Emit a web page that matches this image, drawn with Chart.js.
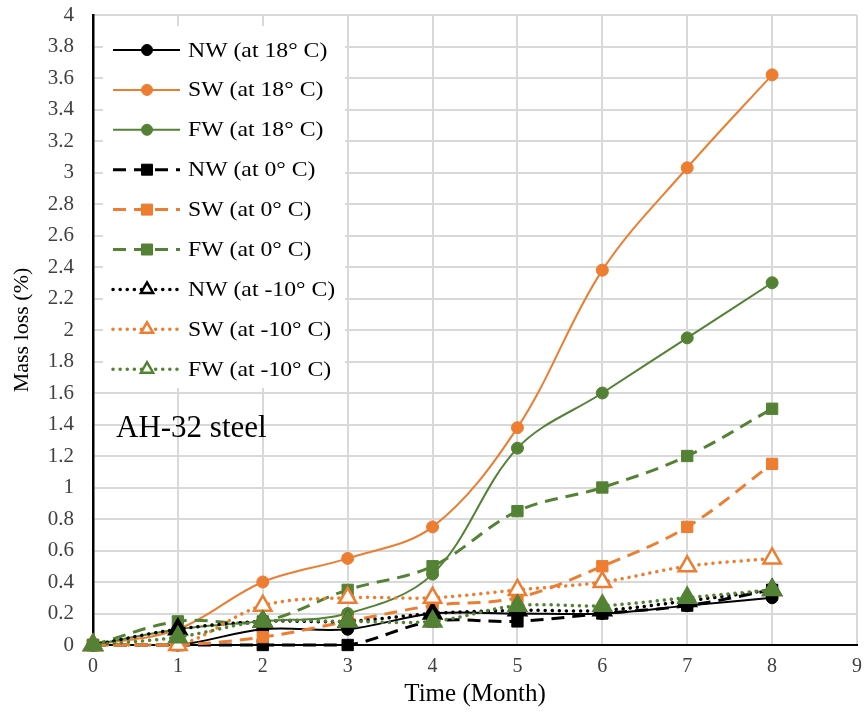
<!DOCTYPE html>
<html>
<head>
<meta charset="utf-8">
<script src="https://cdn.jsdelivr.net/npm/chart.js@4.4.1/dist/chart.umd.min.js"></script>
<style>
  html, body { margin: 0; padding: 0; background: #fff; }
  #wrap { width: 864px; height: 712px; }
</style>
</head>
<body>
<div id="wrap"><canvas id="massChart" width="864" height="712"></canvas></div>
<script>
// Months on the x axis
const months = [0, 1, 2, 3, 4, 5, 6, 7, 8];

// Mass loss (%)
const nw18 = [0, 0, 0.1, 0.1, 0.2, 0.2, 0.2, 0.25, 0.3];
const sw18 = [0, 0.1, 0.4, 0.55, 0.75, 1.38, 2.38, 3.03, 3.62];
const fw18 = [0, 0.1, 0.15, 0.2, 0.45, 1.25, 1.6, 1.95, 2.3];
const nw0 = [0, 0, 0, 0, 0.15, 0.15, 0.2, 0.25, 0.35];
const sw0 = [0, 0, 0.05, 0.15, 0.25, 0.3, 0.5, 0.75, 1.15];
const fw0 = [0, 0.15, 0.15, 0.35, 0.5, 0.85, 1.0, 1.2, 1.5];
const nw10 = [0, 0.1, 0.15, 0.15, 0.2, 0.22, 0.22, 0.28, 0.35];
const sw10 = [0, 0, 0.25, 0.3, 0.3, 0.35, 0.4, 0.5, 0.55];
const fw10 = [0, 0.05, 0.15, 0.15, 0.15, 0.25, 0.25, 0.3, 0.35];

const seriesLabels = [
    'NW (at 18° C)', 'SW (at 18° C)', 'FW (at 18° C)',
    'NW (at 0° C)', 'SW (at 0° C)', 'FW (at 0° C)',
    'NW (at -10° C)', 'SW (at -10° C)', 'FW (at -10° C)'
];
const seriesValues = [nw18, sw18, fw18, nw0, sw0, fw0, nw10, sw10, fw10];

const BLACK = '#000000';
const ORANGE = '#ED7D31';
const GREEN = '#548235';
const colors = [BLACK, ORANGE, GREEN];
const SERIF = "'Liberation Serif', 'Times New Roman', serif";

function makeDataset(i) {
    const group = Math.floor(i / 3); // 0 = 18°, 1 = 0°, 2 = -10°
    const color = colors[i % 3];
    const ds = {
        label: seriesLabels[i],
        data: months.map((m, k) => ({ x: m, y: seriesValues[i][k] })),
        borderColor: color,
        backgroundColor: color,
        pointBackgroundColor: color,
        pointBorderColor: color,
        tension: 0.35,
        order: 9 - i,
        clip: false
    };
    if (group === 0) {
        ds.borderWidth = 2;
        ds.pointStyle = 'circle';
        ds.pointRadius = 6;
        ds.pointBorderWidth = 1;
    } else if (group === 1) {
        ds.borderWidth = 3;
        ds.borderDash = [13, 8];
        ds.pointStyle = 'rect';
        ds.pointRadius = 8;
        ds.pointBorderWidth = 1;
    } else {
        ds.borderWidth = 3.5;
        ds.borderDash = [0.1, 7];
        ds.borderCapStyle = 'round';
        ds.pointStyle = 'triangle';
        ds.pointRadius = 10;
        ds.pointBorderWidth = 2.5;
        if (color === ORANGE) ds.pointBackgroundColor = '#ffffff';
    }
    return ds;
}

// Legend box + "AH-32 steel" drawn inside the plot like the original
const insideLegend = {
    id: 'insideLegend',
    afterDraw(chart) {
        const ctx = chart.ctx;
        ctx.save();
        ctx.fillStyle = '#ffffff';
        ctx.fillRect(103, 26, 242, 362);

        chart.data.datasets.forEach((ds, i) => {
            const y = 50 + i * 39.9;
            ctx.save();
            ctx.strokeStyle = ds.borderColor;
            ctx.lineWidth = ds.borderWidth;
            ctx.lineCap = ds.borderCapStyle || 'butt';
            ctx.setLineDash(ds.borderDash || []);
            ctx.beginPath();
            ctx.moveTo(113, y);
            ctx.lineTo(180, y);
            ctx.stroke();
            ctx.setLineDash([]);
            const r = ds.pointStyle === 'triangle' ? 7 : 5.5;
            ctx.fillStyle = ds.pointStyle === 'triangle' ? '#ffffff' : ds.borderColor;
            ctx.strokeStyle = ds.borderColor;
            ctx.lineWidth = ds.pointStyle === 'triangle' ? 2.5 : 1;
            ctx.beginPath();
            if (ds.pointStyle === 'circle') {
                ctx.arc(147, y, r, 0, Math.PI * 2);
            } else if (ds.pointStyle === 'rect') {
                ctx.rect(147 - 5.5, y - 5.5, 11, 11);
            } else {
                ctx.moveTo(147, y - r);
                ctx.lineTo(147 + r * 0.87, y + r * 0.5);
                ctx.lineTo(147 - r * 0.87, y + r * 0.5);
                ctx.closePath();
            }
            ctx.fill();
            ctx.stroke();
            ctx.restore();

            // the original text is a little stretched sideways
            ctx.save();
            ctx.translate(188, y + 1);
            ctx.scale(1.13, 1);
            ctx.fillStyle = '#000000';
            ctx.font = '21px ' + SERIF;
            ctx.textBaseline = 'middle';
            ctx.textAlign = 'left';
            ctx.fillText(ds.label, 0, 0);
            ctx.restore();
        });

        ctx.fillStyle = '#000000';
        ctx.font = '31px ' + SERIF;
        ctx.textBaseline = 'alphabetic';
        ctx.fillText('AH-32 steel', 116, 437);
        ctx.restore();
    }
};

new Chart(document.getElementById('massChart'), {
    type: 'line',
    data: { datasets: seriesValues.map((v, i) => makeDataset(i)) },
    options: {
        responsive: false,
        animation: false,
        layout: { autoPadding: false, padding: { left: 0, top: 15, right: 7, bottom: 0 } },
        plugins: {
            legend: { display: false },
            tooltip: { enabled: false }
        },
        scales: {
            x: {
                type: 'linear',
                min: 0,
                max: 9,
                ticks: {
                    stepSize: 1,
                    padding: 0,
                    color: '#404040',
                    font: { family: SERIF, size: 20 }
                },
                grid: { color: '#d9d9d9', lineWidth: 2, drawTicks: true, tickLength: 10, tickColor: 'rgba(0,0,0,0)' },
                border: { color: '#000000', width: 2 },
                title: {
                    display: true,
                    text: 'Time (Month)',
                    color: '#000000',
                    font: { family: SERIF, size: 25 },
                    padding: { top: 0, bottom: 3 }
                },
                afterFit: (scale) => {
                    scale.height = 67;
                    scale.paddingRight = 7;
                    scale.paddingLeft = 0;
                }
            },
            y: {
                min: 0,
                max: 4,
                ticks: {
                    stepSize: 0.2,
                    padding: 0,
                    color: '#404040',
                    font: { family: SERIF, size: 21 },
                    callback: (value) => String(Number(value.toFixed(1)))
                },
                grid: { color: '#d9d9d9', lineWidth: 2, drawTicks: true, tickLength: 19, tickColor: 'rgba(0,0,0,0)' },
                border: { color: '#000000', width: 2.5 },
                title: {
                    display: true,
                    text: 'Mass loss (%)',
                    color: '#000000',
                    font: { family: SERIF, size: 22 },
                    padding: { top: 9, bottom: 0 }
                },
                afterFit: (scale) => { scale.width = 93; }
            }
        }
    },
    plugins: [insideLegend]
});
</script>
</body>
</html>
